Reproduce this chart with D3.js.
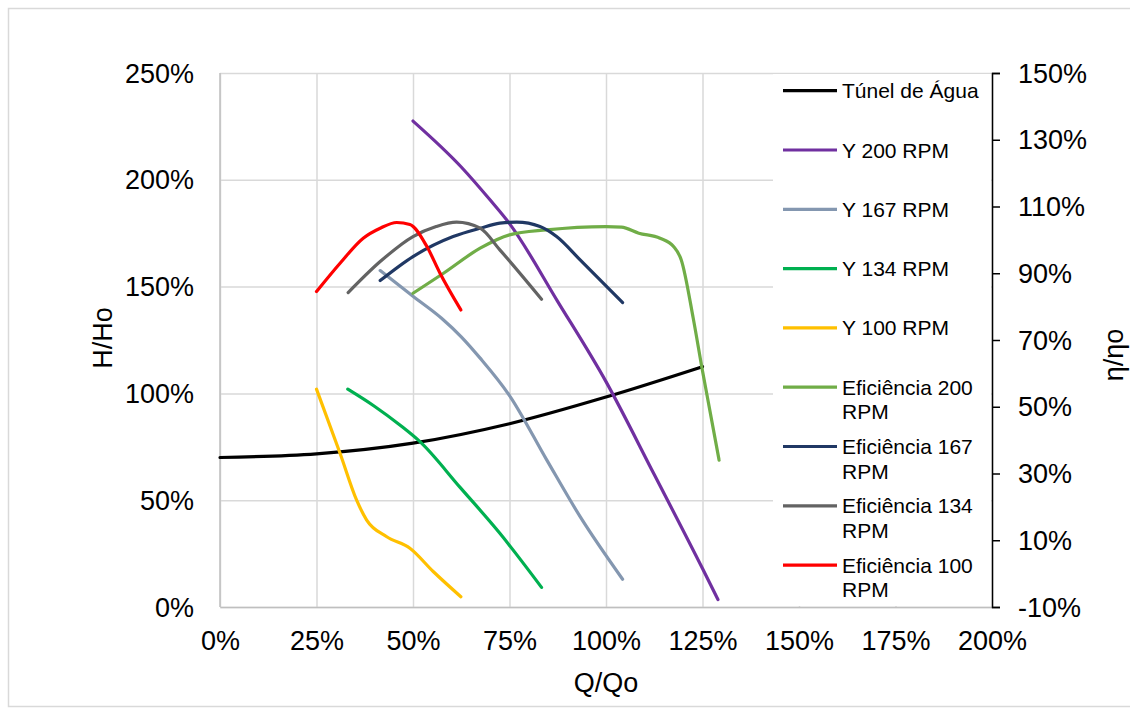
<!DOCTYPE html>
<html>
<head>
<meta charset="utf-8">
<script src="https://cdn.jsdelivr.net/npm/d3@7"></script>
<style>
  html, body { margin: 0; padding: 0; background: #fff; }
  svg { display: block; font-family: "Liberation Sans", Arial, sans-serif; }
</style>
</head>
<body>
<svg id="chart" width="1130" height="710"></svg>
<script>
// Tick values
const xTicks = [0, 0.25, 0.5, 0.75, 1, 1.25, 1.5, 1.75, 2];
const yLeftTicks = [0, 0.5, 1, 1.5, 2, 2.5];
const yRightTicks = [-0.1, 0.1, 0.3, 0.5, 0.7, 0.9, 1.1, 1.3, 1.5];

// Head curves (H/Ho, left axis) — Q/Qo in %, H/Ho in %
const tunelQ = [0, 25, 50, 75, 100, 125];
const tunelH = [70, 71.7, 76.7, 85.8, 98.3, 112.5];

const y200Q = [50, 62.5, 70, 75, 87.5, 100, 112.5, 125, 129];
const y200H = [227.5, 206, 190.5, 179.5, 143, 105.5, 62, 18, 3.5];

const y167Q = [41.5, 50, 57.4, 62.5, 67.4, 75, 84.6, 93.3, 104.3];
const y167H = [157.5, 145.5, 135.2, 126.5, 116.5, 99, 69, 42.3, 13];

const y134Q = [33.1, 40, 46.6, 51.8, 62.2, 72.5, 83.3];
const y134H = [102, 94, 85.2, 77.4, 56, 34.5, 9.2];

const y100Q = [25, 31.1, 35.4, 38, 43.2, 49.2, 55.3, 62.4];
const y100H = [102, 72, 50, 40.7, 32.9, 27.5, 16.5, 4.8];

// Efficiency curves (η/ηo, right axis) — Q/Qo in %, η/ηo in %
const ef200Q = [50, 57.9, 67.4, 75, 84.6, 100, 104, 108.5, 114, 117.5, 119.5, 122.6, 124.8, 129.3];
const ef200E = [84, 90, 97.5, 101.5, 103, 104, 103.8, 102, 100.5, 98, 94, 76.5, 62, 34];

const ef167Q = [41.5, 50, 60.4, 67.4, 72.5, 76.9, 82.9, 87.2, 93.3, 104.3];
const ef167E = [87.8, 95, 101, 103.5, 105, 105.3, 104, 101, 94, 81.2];

const ef134Q = [33.2, 41.5, 50, 56, 61.3, 67.4, 72.5, 83.3];
const ef134E = [84.2, 93.5, 101, 104, 105.3, 103.5, 97, 82.2];

const ef100Q = [25, 31.1, 37.1, 41.5, 45.8, 49.2, 53.6, 57, 62.4];
const ef100E = [84.5, 93, 100.5, 103.5, 105.2, 104.6, 98, 90, 79];

const series = [
  { name: "Túnel de Água",          q: tunelQ, v: tunelH, axis: "left",  color: "#000000" },
  { name: "Y 200 RPM",              q: y200Q,  v: y200H,  axis: "left",  color: "#7030a0" },
  { name: "Y 167 RPM",              q: y167Q,  v: y167H,  axis: "left",  color: "#8497b0" },
  { name: "Y 134 RPM",              q: y134Q,  v: y134H,  axis: "left",  color: "#00b050" },
  { name: "Y 100 RPM",              q: y100Q,  v: y100H,  axis: "left",  color: "#ffc000" },
  { name: ["Eficiência 200", "RPM"], q: ef200Q, v: ef200E, axis: "right", color: "#70ad47" },
  { name: ["Eficiência 167", "RPM"], q: ef167Q, v: ef167E, axis: "right", color: "#203864" },
  { name: ["Eficiência 134", "RPM"], q: ef134Q, v: ef134E, axis: "right", color: "#636363" },
  { name: ["Eficiência 100", "RPM"], q: ef100Q, v: ef100E, axis: "right", color: "#ff0000" }
];

const svg = d3.select("#chart");

// Outer chart frame
svg.append("rect")
  .attr("x", 8.5).attr("y", 8.5).attr("width", 1140).attr("height", 698)
  .attr("fill", "#fff").attr("stroke", "#d9d9d9").attr("stroke-width", 1.5);

const plot = { left: 220, right: 992, top: 73, bottom: 607 };

const x = d3.scaleLinear().domain([0, 2]).range([plot.left, plot.right]);
const yL = d3.scaleLinear().domain([0, 2.5]).range([plot.bottom, plot.top]);
const yR = d3.scaleLinear().domain([-0.1, 1.5]).range([plot.bottom, plot.top]);

const pct = d => d3.format(".0%")(d).replace("−", "-");
const gridColor = "#d9d9d9";

// Vertical gridlines
svg.append("g")
  .attr("transform", `translate(0,${plot.bottom})`)
  .call(d3.axisBottom(x).tickValues(xTicks).tickSize(-(plot.bottom - plot.top)).tickFormat(""))
  .call(g => g.select(".domain").remove())
  .call(g => g.selectAll("line").attr("stroke", gridColor).attr("stroke-width", 1.5));

// Horizontal gridlines
svg.append("g")
  .attr("transform", `translate(${plot.left},0)`)
  .call(d3.axisLeft(yL).tickValues(yLeftTicks).tickSize(-(plot.right - plot.left)).tickFormat(""))
  .call(g => g.select(".domain").remove())
  .call(g => g.selectAll("line").attr("stroke", gridColor).attr("stroke-width", 1.5));

// Left axis line
svg.append("line")
  .attr("x1", plot.left).attr("x2", plot.left)
  .attr("y1", plot.top).attr("y2", plot.bottom)
  .attr("stroke", "#bfbfbf").attr("stroke-width", 1.5);

// Bottom axis tick labels
const xAxis = svg.append("g")
  .attr("transform", `translate(0,${plot.bottom})`)
  .call(d3.axisBottom(x).tickValues(xTicks).tickSize(0).tickPadding(0).tickFormat(pct));
xAxis.select(".domain").attr("stroke", "#bfbfbf").attr("stroke-width", 1.5);
xAxis.selectAll("text")
  .attr("y", 43).attr("dy", null)
  .attr("font-size", 27).attr("fill", "#000")
  .attr("font-family", "Liberation Sans, Arial, sans-serif");

// Left axis tick labels
const yAxisL = svg.append("g")
  .attr("transform", `translate(${plot.left},0)`)
  .call(d3.axisLeft(yL).tickValues(yLeftTicks).tickSize(0).tickPadding(26).tickFormat(pct));
yAxisL.select(".domain").remove();
yAxisL.selectAll("text")
  .attr("dy", "0.34em")
  .attr("font-size", 27).attr("fill", "#000")
  .attr("font-family", "Liberation Sans, Arial, sans-serif");

// Curves (smoothed through the measured points)
const line = d3.line().curve(d3.curveMonotoneX);
const linesG = svg.append("g");
series.forEach(s => {
  const ys = s.axis === "left" ? yL : yR;
  const pts = s.q.map((q, i) => [x(q / 100), ys(s.v[i] / 100)]);
  linesG.append("path")
    .attr("d", line(pts))
    .attr("fill", "none")
    .attr("stroke", s.color)
    .attr("stroke-width", 3.2)
    .attr("stroke-linecap", "round")
    .attr("stroke-linejoin", "round");
});

// Legend panel
const legendX = 773;
svg.append("rect")
  .attr("x", legendX).attr("y", plot.top + 1)
  .attr("width", plot.right - legendX - 1).attr("height", plot.bottom - plot.top - 2)
  .attr("fill", "#fff");

const legendTop = 90.7, legendStep = 59.3;
const legend = svg.append("g");
series.forEach((s, i) => {
  const ly = legendTop + i * legendStep;
  legend.append("line")
    .attr("x1", 783).attr("x2", 837).attr("y1", ly).attr("y2", ly)
    .attr("stroke", s.color).attr("stroke-width", 3.2);
  const lines = Array.isArray(s.name) ? s.name : [s.name];
  lines.forEach((t, j) => {
    legend.append("text")
      .attr("x", 842).attr("y", ly + 7.5 + j * 24.5)
      .attr("font-size", 21).attr("fill", "#000")
      .text(t);
  });
});

// Right axis
const yAxisR = svg.append("g")
  .attr("transform", `translate(${plot.right},0)`)
  .call(d3.axisRight(yR).tickValues(yRightTicks).tickSize(8).tickPadding(18).tickFormat(pct));
yAxisR.select(".domain").attr("stroke", "#000").attr("stroke-width", 1.5);
yAxisR.selectAll("line").attr("stroke", "#000").attr("stroke-width", 1.5);
yAxisR.selectAll("text")
  .attr("dy", "0.34em")
  .attr("font-size", 27).attr("fill", "#000")
  .attr("font-family", "Liberation Sans, Arial, sans-serif");

// Axis titles
svg.append("text")
  .attr("transform", "translate(112,338) rotate(-90)")
  .attr("text-anchor", "middle")
  .attr("font-size", 27).text("H/Ho");

svg.append("text")
  .attr("x", 606).attr("y", 692)
  .attr("text-anchor", "middle")
  .attr("font-size", 27).text("Q/Qo");

svg.append("text")
  .attr("transform", "translate(1123,355) rotate(-90)")
  .attr("text-anchor", "middle")
  .attr("font-size", 27).text("η/ηo");
</script>
</body>
</html>
